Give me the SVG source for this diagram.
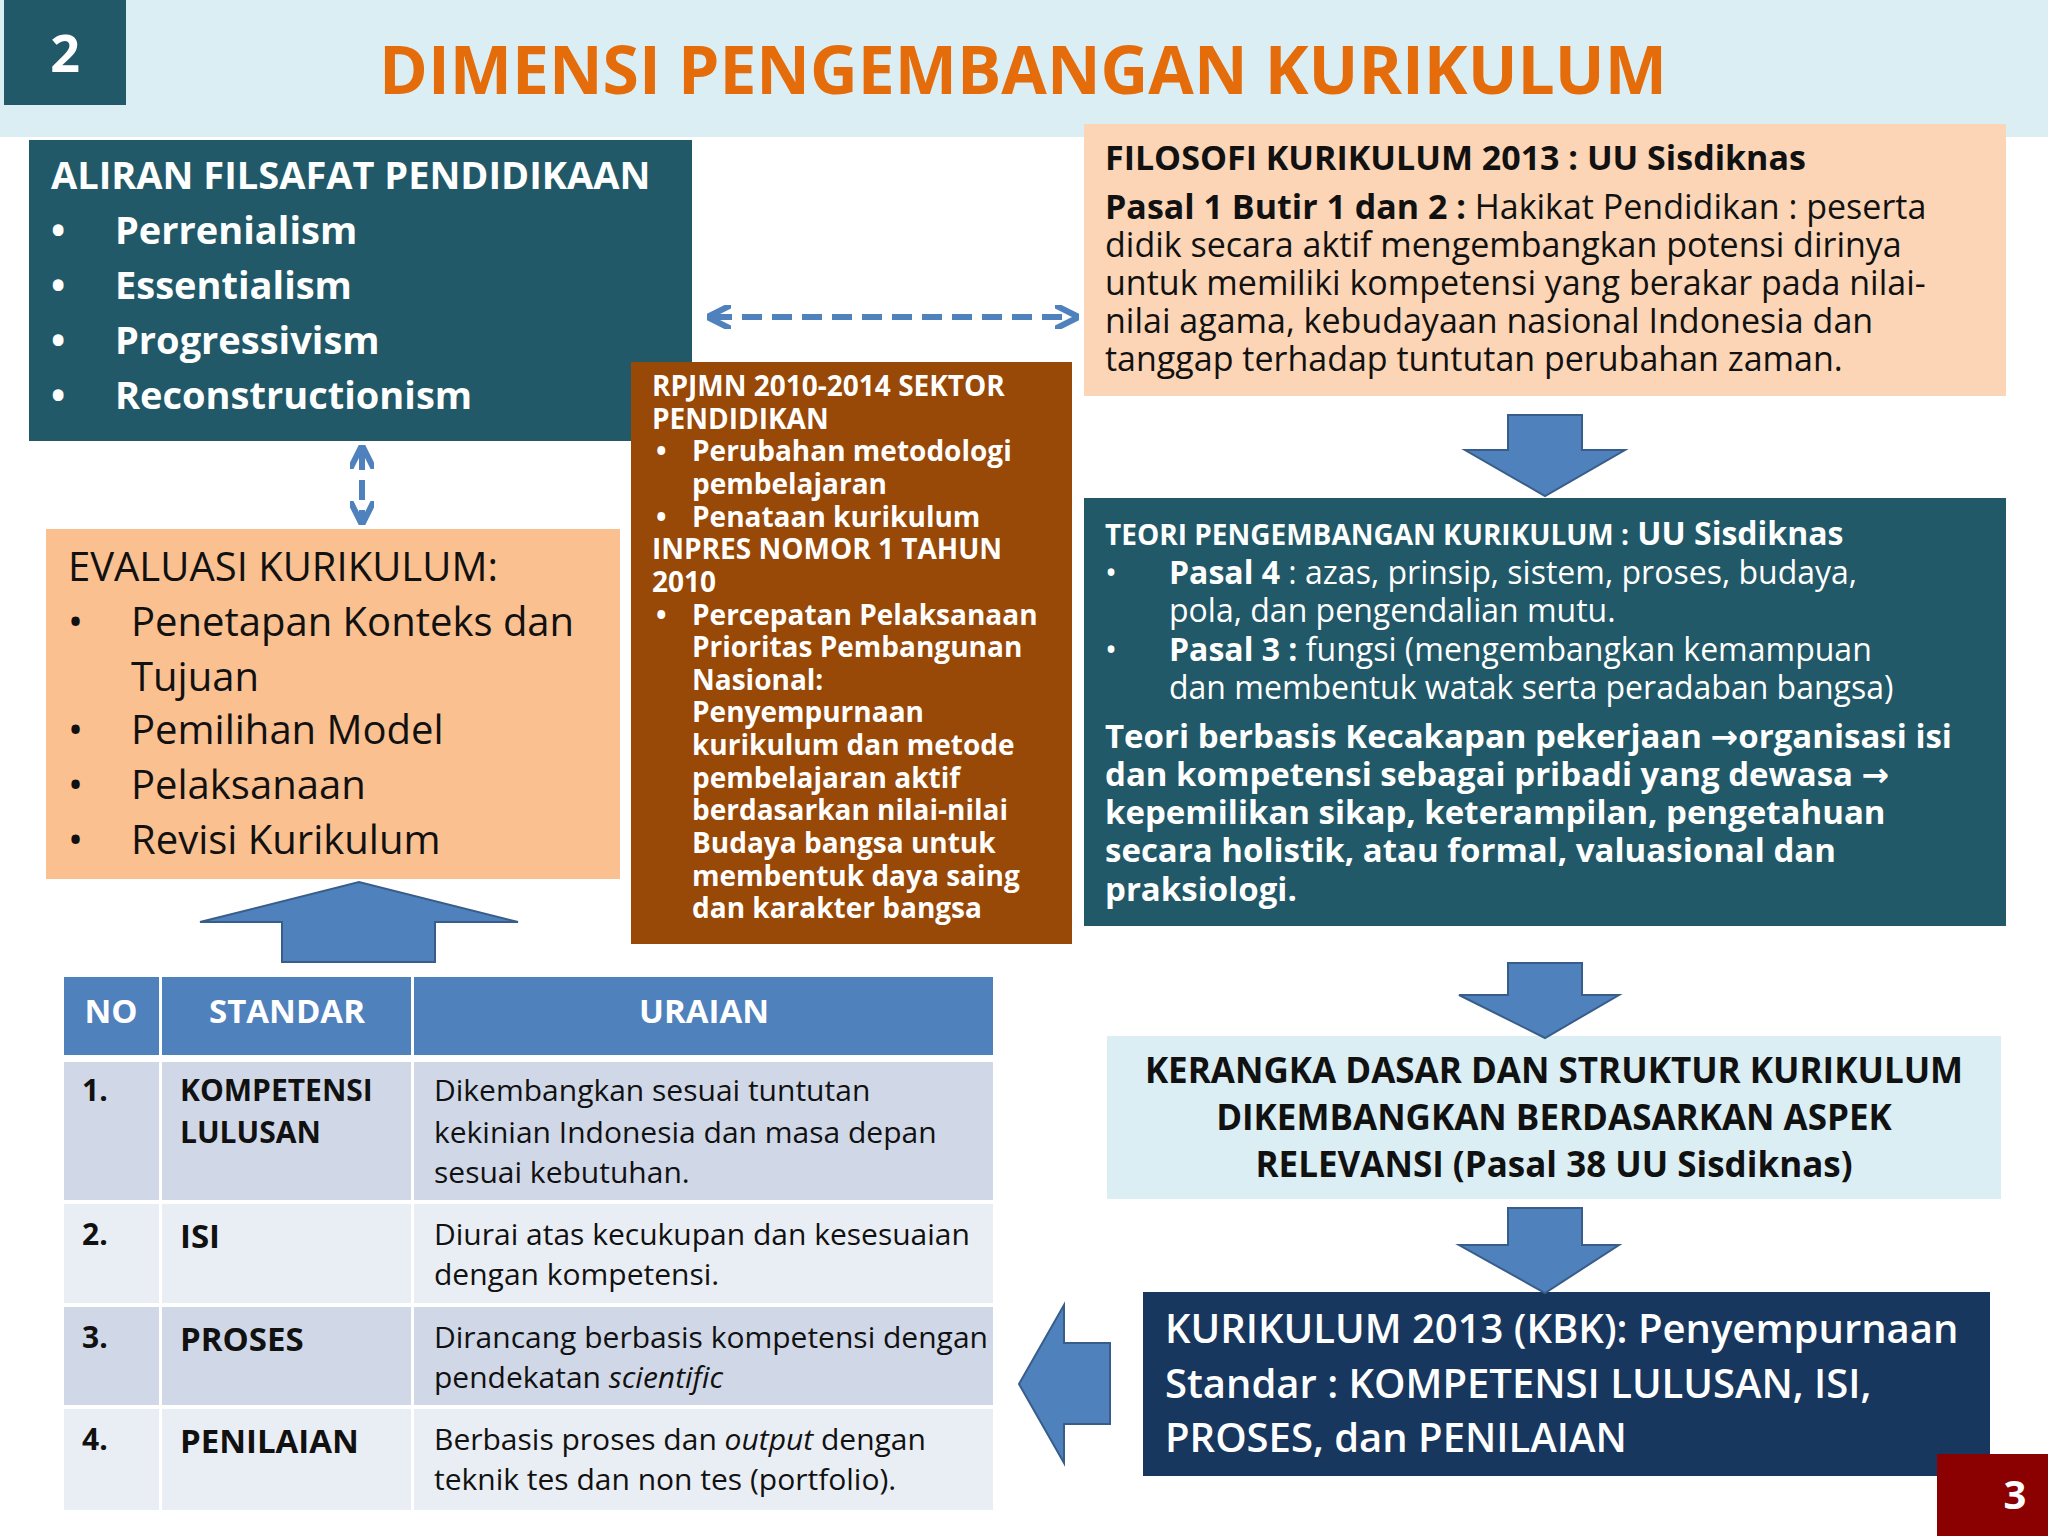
<svg xmlns="http://www.w3.org/2000/svg" width="2048" height="1536" viewBox="0 0 2048 1536">
<style>
text{font-family:"Open Sans","DejaVu Sans",sans-serif}
.w{fill:#fff}.b{font-weight:bold}.k{fill:#111}
.blk{fill:#4f81bd;stroke:#385d8a;stroke-width:2}
.dash{stroke:#4f81bd;stroke-width:6;stroke-dasharray:20 10;fill:none}
</style>
<defs>
<marker id="ah" viewBox="0 0 10 10" refX="8" refY="5" markerWidth="4" markerHeight="4" orient="auto-start-reverse"><path d="M0,0 L10,5 L0,10" fill="none" stroke="#4f81bd" stroke-width="2.5"/></marker>
</defs>
<rect width="2048" height="1536" fill="#fff"/>
<rect x="0" y="0" width="2048" height="137" fill="#dbeef4"/>
<g id="num"><rect x="4" y="0" width="122" height="105" fill="#215968"/><text x="65" y="72" class="w b" font-size="52" text-anchor="middle">2</text></g>
<text x="1023" y="94" font-size="66" font-weight="bold" fill="#e46c0a" text-anchor="middle">DIMENSI PENGEMBANGAN KURIKULUM</text>

<g id="aliran"><rect x="29" y="140" width="663" height="301" fill="#215968"/>
<g class="w b" font-size="38"><text x="51" y="189">ALIRAN FILSAFAT PENDIDIKAAN</text>
<text x="51" y="244">•</text><text x="115" y="244">Perrenialism</text>
<text x="51" y="299">•</text><text x="115" y="299">Essentialism</text>
<text x="51" y="354">•</text><text x="115" y="354">Progressivism</text>
<text x="51" y="409">•</text><text x="115" y="409">Reconstructionism</text></g></g>

<g id="filosofi"><rect x="1084" y="124" width="922" height="272" fill="#fbd5b5"/>
<g class="k" font-size="34"><text x="1105" y="170" class="b">FILOSOFI KURIKULUM 2013 : UU Sisdiknas</text>
<text x="1105" y="219"><tspan font-weight="bold">Pasal 1 Butir 1 dan 2  :</tspan> Hakikat Pendidikan : peserta</text>
<text x="1105" y="257">didik secara aktif mengembangkan potensi dirinya</text>
<text x="1105" y="295">untuk memiliki kompetensi yang berakar pada nilai-</text>
<text x="1105" y="333">nilai agama, kebudayaan nasional Indonesia dan</text>
<text x="1105" y="371">tanggap terhadap tuntutan perubahan zaman.</text></g></g>

<g id="teori"><rect x="1084" y="498" width="922" height="428" fill="#215968"/>
<g class="w" font-size="32"><text x="1105" y="545" class="b"><tspan font-size="28">TEORI PENGEMBANGAN KURIKULUM :</tspan> UU Sisdiknas</text>
<text x="1105" y="584">•</text><text x="1169" y="584"><tspan font-weight="bold">Pasal 4</tspan> : azas, prinsip, sistem, proses, budaya,</text>
<text x="1169" y="622">pola, dan pengendalian mutu.</text>
<text x="1105" y="661">•</text><text x="1169" y="661"><tspan font-weight="bold">Pasal 3 :</tspan> fungsi (mengembangkan kemampuan</text>
<text x="1169" y="699">dan membentuk watak serta peradaban bangsa)</text>
<g class="b" font-size="33"><text x="1105" y="748">Teori berbasis Kecakapan pekerjaan →organisasi  isi</text>
<text x="1105" y="786">dan kompetensi sebagai pribadi yang dewasa →</text>
<text x="1105" y="824">kepemilikan sikap, keterampilan, pengetahuan</text>
<text x="1105" y="862">secara holistik, atau formal, valuasional dan</text>
<text x="1105" y="901">praksiologi.</text></g></g></g>

<g id="evaluasi"><rect x="46" y="529" width="574" height="350" fill="#fac090"/>
<g class="k" font-size="40"><text x="68" y="581">EVALUASI KURIKULUM:</text>
<text x="68" y="636">•</text><text x="131" y="636">Penetapan  Konteks dan</text>
<text x="131" y="691">Tujuan</text>
<text x="68" y="744">•</text><text x="131" y="744">Pemilihan Model</text>
<text x="68" y="799">•</text><text x="131" y="799">Pelaksanaan</text>
<text x="68" y="854">•</text><text x="131" y="854">Revisi Kurikulum</text></g></g>

<g id="rpjmn"><rect x="631" y="362" width="441" height="582" fill="#984807"/>
<g class="w b" font-size="28"><text x="652" y="396">RPJMN 2010-2014  SEKTOR</text>
<text x="652" y="429">PENDIDIKAN</text>
<text x="656" y="461">•</text><text x="692" y="461">Perubahan metodologi</text>
<text x="692" y="494">pembelajaran</text>
<text x="656" y="527">•</text><text x="692" y="527">Penataan kurikulum</text>
<text x="652" y="559">INPRES NOMOR 1 TAHUN</text>
<text x="652" y="592">2010</text>
<text x="656" y="625">•</text><text x="692" y="625">Percepatan  Pelaksanaan</text>
<text x="692" y="657">Prioritas Pembangunan</text>
<text x="692" y="690">Nasional:</text>
<text x="692" y="722">Penyempurnaan</text>
<text x="692" y="755">kurikulum dan metode</text>
<text x="692" y="788">pembelajaran aktif</text>
<text x="692" y="820">berdasarkan nilai-nilai</text>
<text x="692" y="853">Budaya bangsa untuk</text>
<text x="692" y="886">membentuk daya saing</text>
<text x="692" y="918">dan karakter bangsa</text></g></g>

<g id="kerangka"><rect x="1107" y="1036" width="894" height="163" fill="#dbeef4"/>
<g class="k b" font-size="35" text-anchor="middle"><text x="1554" y="1083">KERANGKA DASAR DAN STRUKTUR KURIKULUM</text>
<text x="1554" y="1130">DIKEMBANGKAN  BERDASARKAN ASPEK</text>
<text x="1554" y="1177">RELEVANSI (Pasal 38 UU Sisdiknas)</text></g></g>

<g id="k2013"><rect x="1143" y="1292" width="847" height="184" fill="#17375e"/>
<g class="w" font-size="40" font-weight="600"><text x="1165" y="1343">KURIKULUM 2013 (KBK): Penyempurnaan</text>
<text x="1165" y="1398">Standar : KOMPETENSI LULUSAN, ISI,</text>
<text x="1165" y="1452">PROSES, dan PENILAIAN</text></g></g>

<g id="tabel">
<rect x="64" y="977" width="95" height="78" fill="#4f81bd"/><rect x="162" y="977" width="249" height="78" fill="#4f81bd"/><rect x="414" y="977" width="579" height="78" fill="#4f81bd"/>
<g fill="#d0d8e8"><rect x="64" y="1062" width="95" height="138"/><rect x="162" y="1062" width="249" height="138"/><rect x="414" y="1062" width="579" height="138"/>
<rect x="64" y="1307" width="95" height="98"/><rect x="162" y="1307" width="249" height="98"/><rect x="414" y="1307" width="579" height="98"/></g>
<g fill="#e9edf4"><rect x="64" y="1204" width="95" height="99"/><rect x="162" y="1204" width="249" height="99"/><rect x="414" y="1204" width="579" height="99"/>
<rect x="64" y="1409" width="95" height="101"/><rect x="162" y="1409" width="249" height="101"/><rect x="414" y="1409" width="579" height="101"/></g>
<g class="w b" font-size="33" text-anchor="middle"><text x="111" y="1023">NO</text><text x="287" y="1023">STANDAR</text><text x="704" y="1023">URAIAN</text></g>
<g class="k" font-size="30">
<text x="82" y="1101" class="b">1.</text><text x="180" y="1101" class="b">KOMPETENSI</text><text x="180" y="1143" class="b">LULUSAN</text>
<text x="434" y="1101">Dikembangkan sesuai tuntutan</text><text x="434" y="1143">kekinian Indonesia dan masa depan</text><text x="434" y="1183">sesuai kebutuhan.</text>
<text x="82" y="1245" class="b">2.</text><text x="180" y="1248" class="b" font-size="33">ISI</text>
<text x="434" y="1245">Diurai atas kecukupan dan kesesuaian</text><text x="434" y="1285">dengan kompetensi.</text>
<text x="82" y="1348" class="b">3.</text><text x="180" y="1351" class="b" font-size="33">PROSES</text>
<text x="434" y="1348">Dirancang berbasis kompetensi dengan</text><text x="434" y="1388">pendekatan <tspan font-style="italic">scientific</tspan></text>
<text x="82" y="1450" class="b">4.</text><text x="180" y="1453" class="b" font-size="33">PENILAIAN</text>
<text x="434" y="1450">Berbasis proses dan <tspan font-style="italic">output</tspan>  dengan</text><text x="434" y="1490">teknik tes dan non tes (portfolio).</text></g></g>

<g id="connectors">
<line x1="712" y1="317" x2="1074" y2="317" class="dash" marker-start="url(#ah)" marker-end="url(#ah)"/>
<line x1="362" y1="450" x2="362" y2="520" class="dash" stroke-dasharray="14 8" marker-start="url(#ah)" marker-end="url(#ah)"/>
<path class="blk" d="M1508,415 H1582 V450 H1625 L1545,496 L1465,450 H1508 Z"/>
<path class="blk" d="M282,962 V922 H200 L359,882 L518,922 H435 V962 Z"/>
<path class="blk" d="M1508,963 H1582 V995 H1619 L1545,1038 L1459,995 H1508 Z"/>
<path class="blk" d="M1508,1208 H1582 V1245 H1619 L1545,1293 L1459,1245 H1508 Z"/>
<path class="blk" d="M1110,1343 H1064 V1305 L1019,1384 L1064,1463 V1424 H1110 Z"/>
</g>
<g id="page"><rect x="1937" y="1454" width="111" height="82" fill="#8b0000"/><text x="2015" y="1509" class="w b" font-size="40" text-anchor="middle">3</text></g>
</svg>
